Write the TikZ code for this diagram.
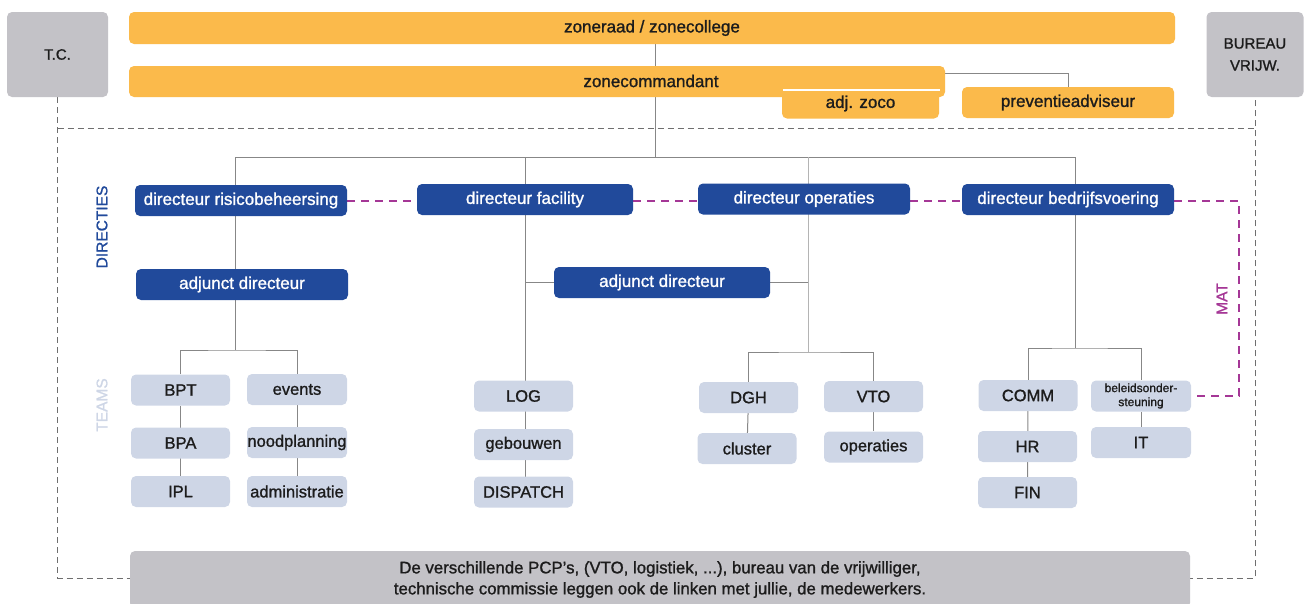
\documentclass[tikz,border=0pt]{standalone}
\usepackage{fontspec}
\setmainfont{Liberation Sans}[FakeBold=1.2]
\usetikzlibrary{calc}
\definecolor{zoneorange}{RGB}{251,186,75}
\definecolor{boxgray}{RGB}{195,194,199}
\definecolor{dirblue}{RGB}{33,74,155}
\definecolor{teamblue}{RGB}{206,214,230}
\definecolor{matpurple}{RGB}{165,55,150}
\definecolor{linegray}{RGB}{135,135,135}
\definecolor{lightline}{RGB}{180,180,180}
\definecolor{framegray}{RGB}{110,110,110}
\definecolor{darktext}{RGB}{28,28,28}
\pgfdeclarelayer{background}
\pgfsetlayers{background,main}
\begin{document}
\begin{tikzpicture}[x=1pt,y=-1pt,
  box/.style={rounded corners=5pt, inner sep=0pt, align=center, minimum height=31pt},
  orangebox/.style={box, fill=zoneorange, text=darktext, font=\fontsize{17}{20}\selectfont},
  graybox/.style={box, fill=boxgray, text=darktext, font=\fontsize{15}{22}\selectfont},
  dirbox/.style={box, fill=dirblue, text=white, font=\fontsize{17}{20}\selectfont, minimum width=212pt},
  teambox/.style={box, fill=teamblue, text=darktext, font=\fontsize{16.5}{19}\selectfont, minimum width=99pt},
  conn/.style={draw=linegray, line width=1pt},
  lconn/.style={draw=lightline, line width=1pt},
  gdash/.style={draw=framegray, line width=1pt, dash pattern=on 6pt off 4pt},
  pdash/.style={draw=matpurple, line width=1.5pt, dash pattern=on 8pt off 6pt},
  sidelabel/.style={rotate=90, inner sep=0pt, font=\fontsize{15.5}{18}\selectfont}
]
\useasboundingbox (0,0) rectangle (1309,603);

% top level
\node[graybox, minimum width=101pt, minimum height=85pt] (TC) at (57.5,54.5) {T.C.};
\node[graybox, minimum width=97pt, minimum height=85pt] (BV) at (1255,54.5) {BUREAU\\VRIJW.};
\node[orangebox, minimum width=1046pt, minimum height=32pt] (zr) at (652,28) {zoneraad / zonecollege};
\node[orangebox, minimum width=816pt] (zc) at (537,81.5) {};
\node[inner sep=0pt, text=darktext, font=\fontsize{17}{20}\selectfont] (zctext) at (651,81) {zonecommandant};
\node[orangebox, minimum width=157pt, minimum height=30pt] (az) at (860.5,103.5) {adj. zoco};
\draw[white, line width=2.5pt] ($(az.north west)+(1,1.8)$) -- ($(az.north east)+(1,1.8)$);
\node[orangebox, minimum width=212pt] (pa) at (1068,102.5) {preventieadviseur};

% directors
\node[dirbox] (dr) at (241,200.5) {directeur risicobeheersing};
\node[dirbox, minimum width=216pt] (df) at (525,199.5) {directeur facility};
\node[dirbox] (do) at (804,199) {directeur operaties};
\node[dirbox] (db) at (1068,199.5) {directeur bedrijfsvoering};
\node[dirbox] (ad1) at (242,284.5) {adjunct directeur};
\node[dirbox, minimum width=216pt] (ad2) at (662,282.5) {adjunct directeur};

% teams
\node[teambox] (BPT) at (180.5,390) {BPT};
\node[teambox, minimum width=100pt] (events) at (297,389.5) {events};
\node[teambox] (BPA) at (180.5,443) {BPA};
\node[teambox, minimum width=100pt] (nood) at (297,442.5) {noodplanning};
\node[teambox] (IPL) at (180.5,491.5) {IPL};
\node[teambox, minimum width=100pt] (admin) at (297,491.5) {administratie};
\node[teambox] (LOG) at (523.5,396) {LOG};
\node[teambox] (geb) at (523.5,444.5) {gebouwen};
\node[teambox] (DISP) at (523.5,492) {DISPATCH};
\node[teambox] (DGH) at (748.5,397.5) {DGH};
\node[teambox] (cluster) at (747,448.5) {cluster};
\node[teambox] (VTO) at (873.5,396.5) {VTO};
\node[teambox] (oper) at (873.5,447) {operaties};
\node[teambox] (COMM) at (1028,395.5) {COMM};
\node[teambox] (HR) at (1027.5,446.5) {HR};
\node[teambox] (FIN) at (1027.5,492.5) {FIN};
\node[teambox, minimum width=100pt, font=\fontsize{12}{14}\selectfont] (beleid) at (1141,396) {beleidsonder-\\steuning};
\node[teambox, minimum width=100pt] (IT) at (1141,442.5) {IT};

% side labels
\node[sidelabel, text=dirblue] (dirlabel) at (102,227) {DIRECTIES};
\node[sidelabel, text=teamblue] (teamlabel) at (102,405) {TEAMS};
\node[sidelabel, text=matpurple] (matlabel) at (1222,299) {MAT};

% bottom box
\node[graybox, minimum width=1060pt, minimum height=57pt, font=\fontsize{16.8}{21}\selectfont] (pcp) at (660,579.5)
  {De verschillende PCP’s, (VTO, logistiek, ...), bureau van de vrijwilliger,\\technische commissie leggen ook de linken met jullie, de medewerkers.};

% coordinates
\coordinate (trunk) at (655,157);
\coordinate (bl) at (235,157);
\coordinate (br) at (1075,157);
\coordinate (b1) at (235,350);
\coordinate (ob) at (808,352);
\coordinate (bb) at (1075,348);
\coordinate (zcpa) at (945,73);
\coordinate (ft) at (0,128);
\coordinate (fb) at (0,578);
\coordinate (matc) at (1239,201);

\begin{pgfonlayer}{background}
  \draw[conn] (zr.south -| trunk) -- (trunk);
  \draw[conn] (zcpa) -| (pa.north);
  \draw[conn] (bl) -- (br);
  \draw[conn] (bl) -- (b1);
  \draw[conn] (BPT.north) |- (b1) -| (events.north);
  \draw[conn] (BPT) -- (IPL);
  \draw[conn] (events) -- (admin);
  \draw[conn] (df.center |- bl) -- (df.center |- DISP.center);
  \draw[conn] (df.center |- ad2) -- (ad2.west);
  \draw[conn] (ad2.east) -- (ob |- ad2);
  \draw[lconn] (ob |- bl) -- (ob);
  \draw[conn] (DGH.north) |- (ob) -| (VTO.north);
  \draw[conn] (DGH) -- (cluster);
  \draw[conn] (VTO) -- (oper);
  \draw[conn] (br) -- (bb);
  \draw[conn] (COMM.north) |- (bb) -| (beleid.north);
  \draw[conn] (COMM) -- (FIN);
  \draw[conn] (beleid) -- (IT);
  % frame
  \draw[gdash] (TC.south) -- (TC.south |- fb) -- (BV.south |- fb) -- (BV.south);
  \draw[gdash] (TC.south |- ft) -- (BV.south |- ft);
  % MAT
  \draw[pdash] (dr.east |- matc) -- (df.west |- matc);
  \draw[pdash] (df.east |- matc) -- (do.west |- matc);
  \draw[pdash] (do.east |- matc) -- (db.west |- matc);
  \draw[pdash] (db.east |- matc) -- (matc) -- (matc |- beleid.east) -- (beleid.east);
\end{pgfonlayer}
\end{tikzpicture}
\end{document}
